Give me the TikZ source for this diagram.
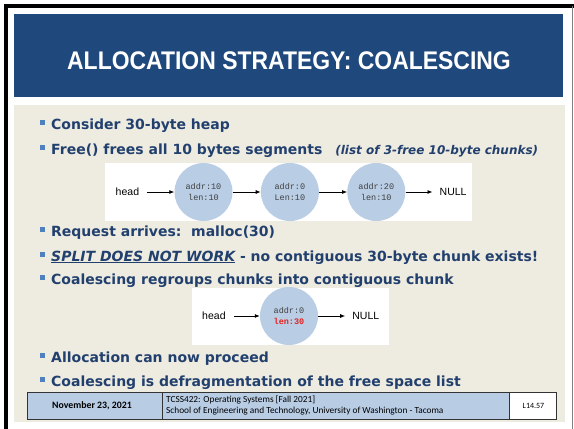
\documentclass[tikz,border=0pt]{standalone}
\usepackage{fontspec}
\setmainfont{DejaVu Sans}
\newfontfamily\titlefont[FakeStretch=0.9]{Liberation Sans}
\newfontfamily\labelfont{Liberation Sans}
\newfontfamily\chunkfont{Liberation Mono}
\newfontfamily\footfont{Carlito}
\usetikzlibrary{arrows.meta,positioning}
\definecolor{bannerblue}{HTML}{1F487C}
\definecolor{textblue}{HTML}{22406E}
\definecolor{bulletblue}{HTML}{4F81BD}
\definecolor{slidebg}{HTML}{EEEBE0}
\definecolor{chunkfill}{HTML}{B9CDE5}
\definecolor{footfill}{HTML}{B8CCE4}
\definecolor{chunktext}{HTML}{404040}
\definecolor{lenred}{HTML}{E8201E}

\tikzset{
  chunk/.style={circle, fill=chunkfill, minimum size=58pt, inner sep=0pt, align=center,
    font=\chunkfont\fontsize{8.5}{11}\selectfont, text=chunktext},
  ptr/.style={font=\labelfont\fontsize{10.5}{12}\selectfont, inner sep=2pt},
  link/.style={-{Latex[length=5pt,width=4pt]}, line width=0.8pt},
  sq/.style={fill=bulletblue, minimum size=5.5pt, inner sep=0pt},
  item/.style={anchor=base west, inner sep=0pt, text=textblue,
    font=\fontsize{14}{16}\selectfont\bfseries},
  cell/.style={draw=black!80, line width=0.8pt, fill=footfill},
}

\begin{document}
\begin{tikzpicture}[x=1pt, y=-1pt, node distance=28pt]
  \useasboundingbox (0,0) rectangle (574,429);
  \fill[white] (0,0) rectangle (574,429);

  % frame, banner, background
  \draw[line width=3.5pt] (5.75,429) -- (5.75,5.75) -- (574,5.75);
  \draw[gray, line width=0.8pt] (572,5.75) -- (572,429);
  \fill[bannerblue] (13.5,13.5) rectangle (563,97);
  \fill[slidebg] (14,105) rectangle (565,422);
  \node[text=white, font=\titlefont\bfseries\fontsize{25.5}{28}\selectfont] (title) at (289,61)
    {ALLOCATION STRATEGY: COALESCING};

  % bullets
  \foreach \y in {124,149,231,256,279,357,381}
    \node[sq] (b\y) at (42.5,\y-1.5) {};

  \node[item] (consider) at (51,129) {Consider 30-byte heap};
  \node[item] (free) at (51,154) {Free() frees all 10 bytes segments\hspace{13pt}{\fontsize{12}{14}\selectfont\itshape (list of 3-free 10-byte chunks)}};
  \node[item] (request) at (51,236) {Request arrives:\ \ malloc(30)};
  \node[item] (split) at (51,261) {\underline{\itshape SPLIT DOES NOT WORK} - no contiguous 30-byte chunk exists!};
  \node[item] (regroup) at (51,284) {Coalescing regroups chunks into contiguous chunk};
  \node[item] (proceed) at (51,362) {Allocation can now proceed};
  \node[item] (defrag) at (51,386) {Coalescing is defragmentation of the free space list};

  % free list before coalescing
  \fill[white] (105,163) rectangle (472,221);
  \node[chunk] (c1) at (203.5,192) {addr:10\\len:10};
  \node[chunk] (c2) [right=of c1] {addr:0\\Len:10};
  \node[chunk] (c3) [right=of c2] {addr:20\\len:10};
  \node[ptr] (head1) [left=33pt of c1] {head};
  \node[ptr] (null1) [right=32pt of c3] {NULL};

  \draw[link, shorten <=6pt] (head1) -- (c1);
  \draw[link] (c1) -- (c2);
  \draw[link] (c2) -- (c3);
  \draw[link, shorten >=5pt] (c3) -- (null1);

  % free list after coalescing
  \fill[white] (192,288) rectangle (389,345);
  \node[chunk] (c0) at (289,316) {addr:0\\\textcolor{lenred}{\bfseries len:30}};
  \node[ptr] (head2) [left=32pt of c0] {head};
  \node[ptr] (null2) [right=32pt of c0] {NULL};

  \draw[link, shorten <=6pt] (head2) -- (c0);
  \draw[link, shorten >=5pt] (c0) -- (null2);

  % footer
  \draw[cell] (27,392) rectangle (162,419);
  \draw[cell] (162,392) rectangle (509,419);
  \draw[cell, fill=white] (509,392) rectangle (556,419);
  \node[font=\footfont\bfseries\fontsize{9.8}{11}\selectfont] (date) at (92,405.5) {November 23, 2021};
  \node[font=\footfont\fontsize{9.3}{10.8}\selectfont, anchor=west, align=left, inner sep=0pt] (course) at (166,405.5)
    {TCSS422: Operating Systems [Fall 2021]\\School of Engineering and Technology, University of Washington - Tacoma};
  \node[font=\footfont\fontsize{8}{9}\selectfont] (slide) at (533.5,405.5) {L14.57};
\end{tikzpicture}
\end{document}
